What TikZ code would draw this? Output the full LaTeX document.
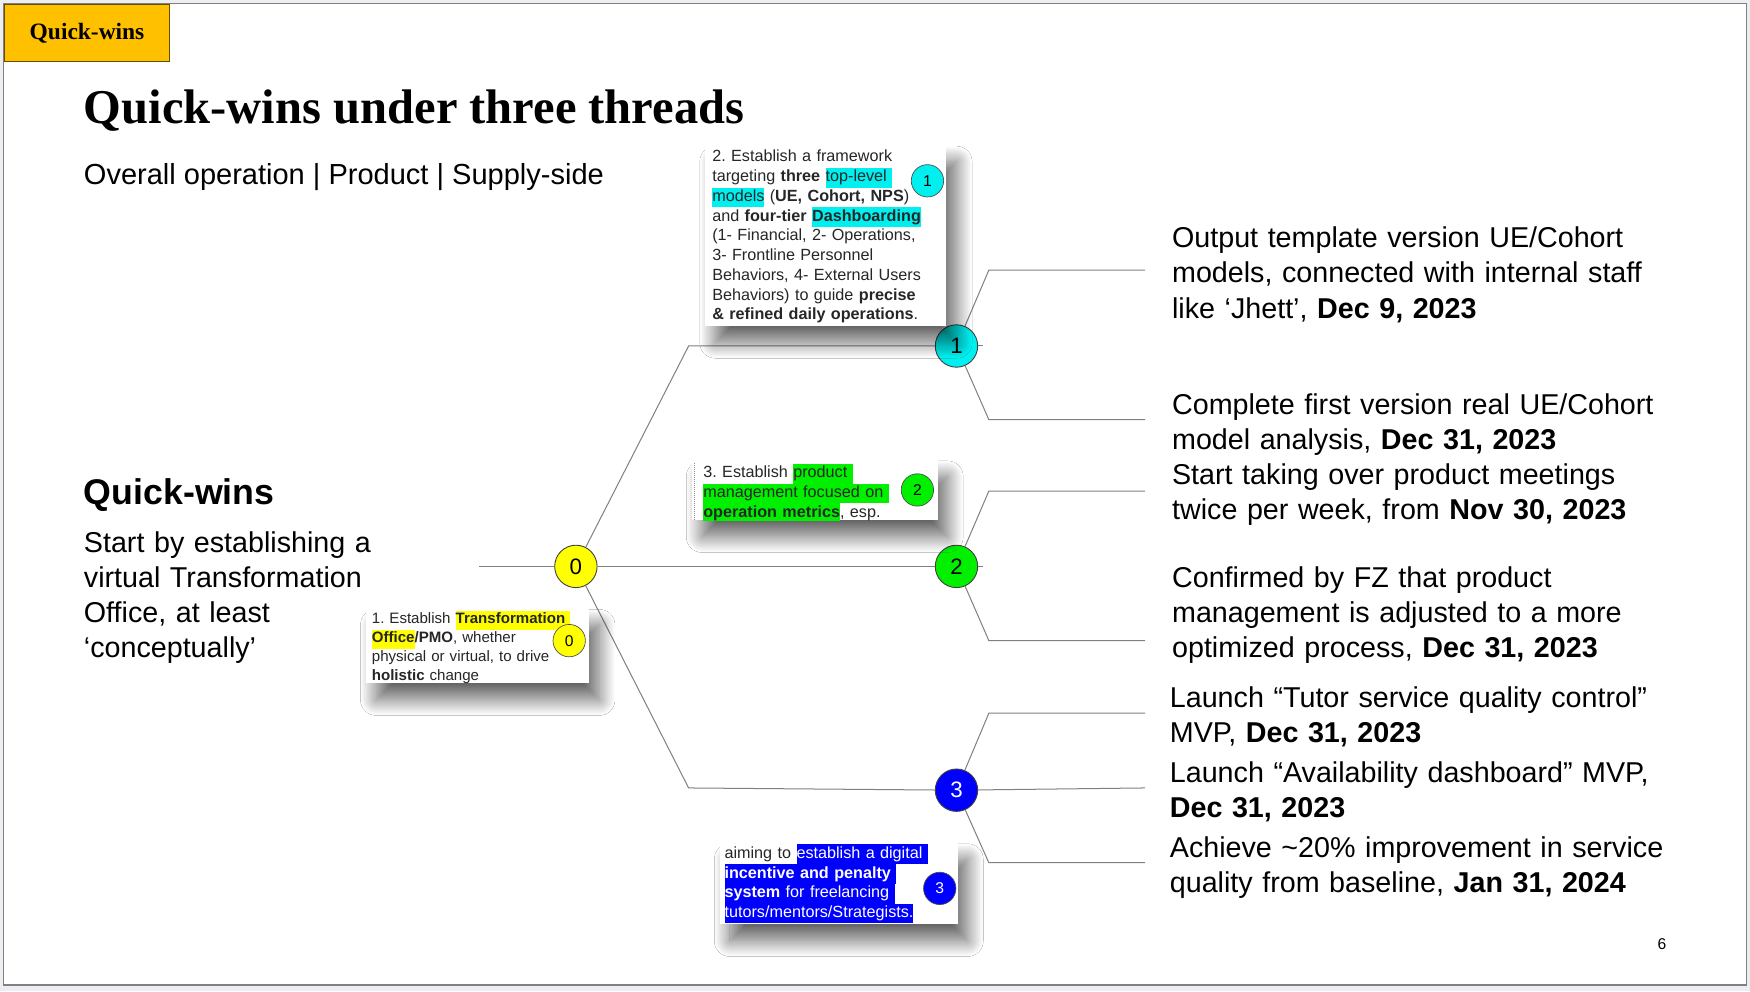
\documentclass[tikz,border=0pt]{standalone}
\usepackage{fontspec}
\setmainfont{Liberation Sans}
\newfontfamily\headfont{Liberation Serif}
\usepackage{xcolor}
\usepackage{tikz}
\usetikzlibrary{positioning, calc, shadows.blur}

\definecolor{tabgold}{RGB}{255,192,0}
\definecolor{pagegray}{RGB}{237,238,242}
\definecolor{markcyan}{RGB}{0,240,240}
\definecolor{markgreen}{RGB}{0,240,0}
\definecolor{markyellow}{RGB}{255,255,0}
\definecolor{markblue}{RGB}{0,0,255}

\newcommand{\hlt}[2]{{\setlength{\fboxsep}{0pt}\colorbox{#1}{\strut #2}}}
\newcommand{\hlw}[1]{\hlt{markblue}{\color{white}#1}}
\newcommand{\bigtext}{\fontsize{25.7}{31.5}\selectfont}
\newcommand{\smalltext}{\fontsize{14.5}{17.7}\selectfont}
\frenchspacing

\begin{document}
\begin{tikzpicture}[
    x=1pt, y=-1pt,
    hub/.style={circle, draw=black!75, line width=0.8pt, minimum size=38pt, inner sep=0pt, font=\fontsize{20}{20}\selectfont},
    tag/.style={circle, draw=black!70, line width=0.6pt, minimum size=29pt, inner sep=0pt, font=\fontsize{14}{14}\selectfont},
    note/.style={rectangle, fill=white, inner sep=0pt, blur shadow={shadow xshift=9pt, shadow yshift=-15pt, shadow blur radius=14pt, shadow blur steps=30, shadow opacity=60}},
    notetext/.style={anchor=base west, inner sep=0pt, text width=230pt, align=left, text=black!85, font=\smalltext},
    milestone/.style={anchor=base west, inner sep=0pt, text width=520pt, align=left, font=\bigtext},
    branch/.style={draw=black!50, line width=0.9pt}
  ]
  \useasboundingbox (0,0) rectangle (1568,888);
  \fill[pagegray] (0,0) rectangle (1568,888);
  \draw[black!50, line width=1pt, fill=white] (3,3.5) rectangle (1565,882.5);

  \node[draw=black!60!tabgold, line width=0.8pt, fill=tabgold, minimum width=148pt, minimum height=51pt, inner sep=0pt] (tab) at (78,29.5) {\headfont\bfseries\fontsize{21}{21}\selectfont Quick-wins};
  \node[anchor=base west, inner sep=0pt] (title) at (75,111) {\headfont\bfseries\fontsize{43.5}{43.5}\selectfont Quick-wins under three threads};
  \node[anchor=base west, inner sep=0pt, font=\fontsize{26}{31.5}\selectfont] (subtitle) at (75,165) {Overall operation | Product | Supply-side};

  \node[anchor=base west, inner sep=0pt] (qwhead) at (75,452) {\bfseries\fontsize{32}{32}\selectfont Quick-wins};
  \node[milestone, text width=300pt] (qwtext) at (75,495) {Start by establishing a\\virtual Transformation\\Office, at least\\‘conceptually’};

  \node[hub, fill=markyellow] (c0) at (516,507.5) {0};
  \node[hub, fill=markcyan] (c1) at (857,310) {1};
  \node[hub, fill=markgreen] (c2) at (857,507.5) {2};
  \node[hub, fill=markblue, text=white] (c3) at (857,708) {3};

  \coordinate (lead) at (429,507.5);
  \coordinate (k1) at (617,310);
  \coordinate (k3) at (617,706);
  \coordinate (a1) at (886,242);
  \coordinate (e1a) at (1026,242);
  \coordinate (b1) at (886,376);
  \coordinate (e1b) at (1026,376);
  \coordinate (a2) at (886,440);
  \coordinate (e2a) at (1026,440);
  \coordinate (b2) at (886,574);
  \coordinate (e2b) at (1026,574);
  \coordinate (a3) at (886,639);
  \coordinate (e3a) at (1026,639);
  \coordinate (m3) at (1026,706);
  \coordinate (b3) at (886,773);
  \coordinate (e3b) at (1026,773);

  \draw[branch] (lead) -- (c0);
  \draw[branch] (c0) -- (k1) -- (c1);
  \draw[branch] (c0) -- (c2);
  \draw[branch] (c0) -- (k3) -- (c3);
  \draw[branch] (c1) -- (a1) -- (e1a);
  \draw[branch] (c1) -- (b1) -- (e1b);
  \draw[branch] (c1.east) -- ++(4,0);
  \draw[branch] (c2) -- (a2) -- (e2a);
  \draw[branch] (c2) -- (b2) -- (e2b);
  \draw[branch] (c2.east) -- ++(4,0);
  \draw[branch] (c3) -- (a3) -- (e3a);
  \draw[branch] (c3) -- (m3);
  \draw[branch] (c3) -- (b3) -- (e3b);

  \node[note, minimum width=216pt, minimum height=162pt] (box1) at (740,211) {};
  \node[notetext] (box1text) at (638,145) {2. Establish a framework\\
    targeting \textbf{three} \hlt{markcyan}{top-level }\\
    \hlt{markcyan}{models} (\textbf{UE, Cohort, NPS})\\
    and \textbf{four-tier} \hlt{markcyan}{\textbf{Dashboarding}}\\
    (1- Financial, 2- Operations,\\
    3- Frontline Personnel\\
    Behaviors, 4- External Users\\
    Behaviors) to guide \textbf{precise}\\
    \textbf{\& refined daily operations}.};
  \node[tag, fill=markcyan] (t1) at (831,162) {1};

  \node[note, minimum width=220pt, minimum height=54pt] (box2) at (730,439) {};
  \begin{scope}
    \clip (box2.north west) rectangle (box2.south east);
    \node[notetext, text width=200pt] (box2text) at (630,428) {3. Establish \hlt{markgreen}{product }\\
      \hlt{markgreen}{management focused on }\\
      \hlt{markgreen}{\textbf{operation metrics}}, esp.};
  \end{scope}
  \draw[black!45, densely dotted, line width=0.8pt] ($(box2.north west)+(2,3)$) -- ($(box2.south west)+(2,0)$);
  \node[tag, fill=markgreen] (t2) at (822,439) {2};

  \node[note, minimum width=200pt, minimum height=67pt] (box0) at (428,578.5) {};
  \node[notetext, font=\fontsize{13.5}{17}\selectfont] (box0text) at (333,559) {1. Establish \hlt{markyellow}{\textbf{Transformation }}\\
    \hlt{markyellow}{\textbf{Office}}\textbf{/PMO}, whether\\
    physical or virtual, to drive\\
    \textbf{holistic} change};
  \node[tag, fill=markyellow] (t0) at (510,574) {0};

  \node[note, minimum width=213pt, minimum height=73pt] (box3) at (751.5,791.5) {};
  \node[notetext] (box3text) at (649,769) {aiming to \hlw{establish a digital }\\
    \hlw{\textbf{incentive and penalty }}\\
    \hlw{\textbf{system} for freelancing }\\
    \hlw{tutors/mentors/Strategists.}};
  \node[tag, fill=markblue, text=white] (t3) at (842,796) {3};

  \node[milestone] (ms1) at (1050,222) {Output template version UE/Cohort\\models, connected with internal staff\\like ‘Jhett’, \textbf{Dec 9, 2023}};
  \node[milestone] (ms2) at (1050,371) {Complete first version real UE/Cohort\\model analysis, \textbf{Dec 31, 2023}};
  \node[milestone] (ms3) at (1050,434) {Start taking over product meetings\\twice per week, from \textbf{Nov 30, 2023}};
  \node[milestone] (ms4) at (1050,526) {Confirmed by FZ that product\\management is adjusted to a more\\optimized process, \textbf{Dec 31, 2023}};
  \node[milestone] (ms5) at (1048,634) {Launch “Tutor service quality control”\\MVP, \textbf{Dec 31, 2023}};
  \node[milestone] (ms6) at (1048,701) {Launch “Availability dashboard” MVP,\\\textbf{Dec 31, 2023}};
  \node[milestone] (ms7) at (1048,768) {Achieve \textasciitilde20\% improvement in service\\quality from baseline, \textbf{Jan 31, 2024}};

  \node (pgnum) at (1489,846) {\fontsize{14}{14}\selectfont 6};
\end{tikzpicture}
\end{document}
